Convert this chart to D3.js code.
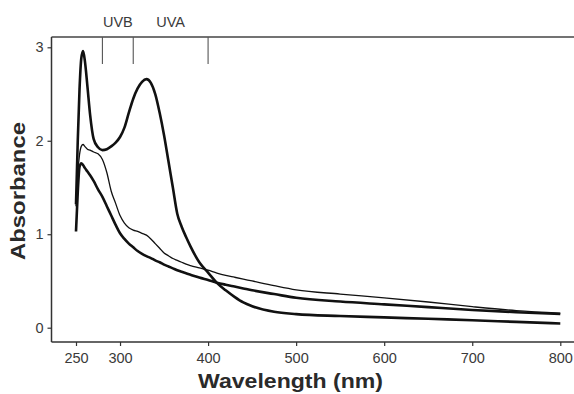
<!DOCTYPE html>
<html>
<head>
<meta charset="utf-8">
<script src="https://cdn.jsdelivr.net/npm/d3@7"></script>
<style>
  html, body { margin: 0; padding: 0; background: #fff; }
  svg { display: block; }
  text { font-family: "Liberation Sans", Arial, sans-serif; }
</style>
</head>
<body>
<svg id="chart" width="574" height="394"></svg>
<script>
// ---- data ----
const wavelengths = [250, 252, 254, 256, 258, 260, 263, 266, 270, 275, 280, 285, 290, 295, 300, 305, 310, 315, 320, 325, 330, 335, 340, 345, 350, 355, 360, 365, 370, 375, 380, 390, 400, 410, 420, 430, 440, 450, 475, 500, 550, 600, 650, 700, 750, 800];

const seriesA = [1.32, 2.0, 2.55, 2.88, 2.96, 2.86, 2.58, 2.28, 2.02, 1.93, 1.90, 1.91, 1.94, 1.98, 2.04, 2.14, 2.30, 2.45, 2.56, 2.63, 2.66, 2.62, 2.50, 2.30, 2.06, 1.78, 1.50, 1.22, 1.08, 0.97, 0.87, 0.70, 0.59, 0.48, 0.40, 0.33, 0.27, 0.23, 0.17, 0.145, 0.125, 0.11, 0.095, 0.08, 0.062, 0.045];

const seriesB = [1.30, 1.65, 1.85, 1.94, 1.96, 1.94, 1.91, 1.90, 1.88, 1.86, 1.80, 1.66, 1.46, 1.33, 1.20, 1.12, 1.07, 1.045, 1.03, 1.01, 0.99, 0.95, 0.90, 0.85, 0.80, 0.77, 0.74, 0.72, 0.70, 0.68, 0.665, 0.64, 0.615, 0.585, 0.56, 0.54, 0.52, 0.50, 0.45, 0.405, 0.36, 0.32, 0.275, 0.225, 0.182, 0.155];

const seriesC = [1.03, 1.45, 1.72, 1.76, 1.74, 1.71, 1.67, 1.63, 1.57, 1.48, 1.40, 1.30, 1.20, 1.10, 1.01, 0.95, 0.90, 0.86, 0.82, 0.79, 0.765, 0.745, 0.72, 0.70, 0.675, 0.655, 0.635, 0.615, 0.598, 0.582, 0.567, 0.537, 0.51, 0.482, 0.46, 0.44, 0.42, 0.40, 0.36, 0.32, 0.28, 0.25, 0.22, 0.19, 0.166, 0.147];

const xTicks = [250, 300, 400, 500, 600, 700, 800];
const yTicks = [0, 1, 2, 3];
const uvMarks = [280, 315, 400];
const uvLabels = [{ text: "UVB", from: 280, to: 315 }, { text: "UVA", from: 315, to: 400 }];

// ---- layout ----
const svg = d3.select("#chart");
const frame = { left: 51.5, right: 574, top: 37, bottom: 342 };

const x = d3.scaleLinear().domain([250, 800]).range([76, 560.3]);
const y = d3.scaleLinear().domain([0, 3]).range([327.7, 47.3]);

const axisColor = "#333";
const labelColor = "#3a3a3a";

// frame lines
svg.append("line")
  .attr("x1", frame.left).attr("x2", frame.right)
  .attr("y1", frame.top).attr("y2", frame.top)
  .attr("stroke", "#444").attr("stroke-width", 1.5);

// x axis
const xAxis = svg.append("g")
  .attr("transform", `translate(0,${frame.bottom})`)
  .call(d3.axisBottom(x).tickValues(xTicks).tickSize(4).tickPadding(7).tickFormat(d3.format("d")));
xAxis.select(".domain").remove();
xAxis.append("line")
  .attr("x1", frame.left).attr("x2", frame.right)
  .attr("y1", 0).attr("y2", 0)
  .attr("stroke", axisColor).attr("stroke-width", 1.5);
xAxis.selectAll(".tick line").attr("stroke", axisColor).attr("stroke-width", 1.2);
xAxis.selectAll(".tick text")
  .attr("fill", labelColor)
  .style("font-size", "14.5px")
  .style("font-family", "'Liberation Sans', Arial, sans-serif");

// y axis
const yAxis = svg.append("g")
  .attr("transform", `translate(${frame.left},0)`)
  .call(d3.axisLeft(y).tickValues(yTicks).tickSize(4).tickPadding(4).tickFormat(d3.format("d")));
yAxis.select(".domain").remove();
yAxis.append("line")
  .attr("x1", 0).attr("x2", 0)
  .attr("y1", frame.top).attr("y2", frame.bottom)
  .attr("stroke", axisColor).attr("stroke-width", 1.5);
yAxis.selectAll(".tick line").attr("stroke", axisColor).attr("stroke-width", 1.2);
yAxis.selectAll(".tick text")
  .attr("fill", labelColor)
  .style("font-size", "14.5px")
  .style("font-family", "'Liberation Sans', Arial, sans-serif");

// UV marker lines
svg.append("g").selectAll("line")
  .data(uvMarks)
  .join("line")
  .attr("x1", d => x(d)).attr("x2", d => x(d))
  .attr("y1", frame.top).attr("y2", 64)
  .attr("stroke", "#555").attr("stroke-width", 1.1);

svg.append("g").selectAll("text")
  .data(uvLabels)
  .join("text")
  .attr("x", d => x((d.from + d.to) / 2))
  .attr("y", 26.7)
  .attr("text-anchor", "middle")
  .attr("fill", labelColor)
  .style("font-size", "14.5px")
  .text(d => d.text);

// curves
const series = [
  { values: seriesA, width: 2.6 },
  { values: seriesB, width: 1.3 },
  { values: seriesC, width: 2.6 }
];
const line = d3.line()
  .x((d, i) => x(wavelengths[i]))
  .y(d => y(d))
  .curve(d3.curveMonotoneX);

svg.append("g").selectAll("path")
  .data(series)
  .join("path")
  .attr("d", d => line(d.values))
  .attr("fill", "none")
  .attr("stroke", "#111")
  .attr("stroke-width", d => d.width)
  .attr("stroke-linejoin", "round")
  .attr("stroke-linecap", "butt");

// axis titles
svg.append("text")
  .attr("x", 290.5).attr("y", 388)
  .attr("text-anchor", "middle")
  .attr("fill", "#2a2a2a")
  .attr("textLength", 185).attr("lengthAdjust", "spacingAndGlyphs")
  .style("font-size", "21px").style("font-weight", "bold")
  .text("Wavelength (nm)");

svg.append("text")
  .attr("transform", "translate(25,191) rotate(-90)")
  .attr("text-anchor", "middle")
  .attr("fill", "#2a2a2a")
  .attr("textLength", 138).attr("lengthAdjust", "spacingAndGlyphs")
  .style("font-size", "21px").style("font-weight", "bold")
  .text("Absorbance");
</script>
</body>
</html>
